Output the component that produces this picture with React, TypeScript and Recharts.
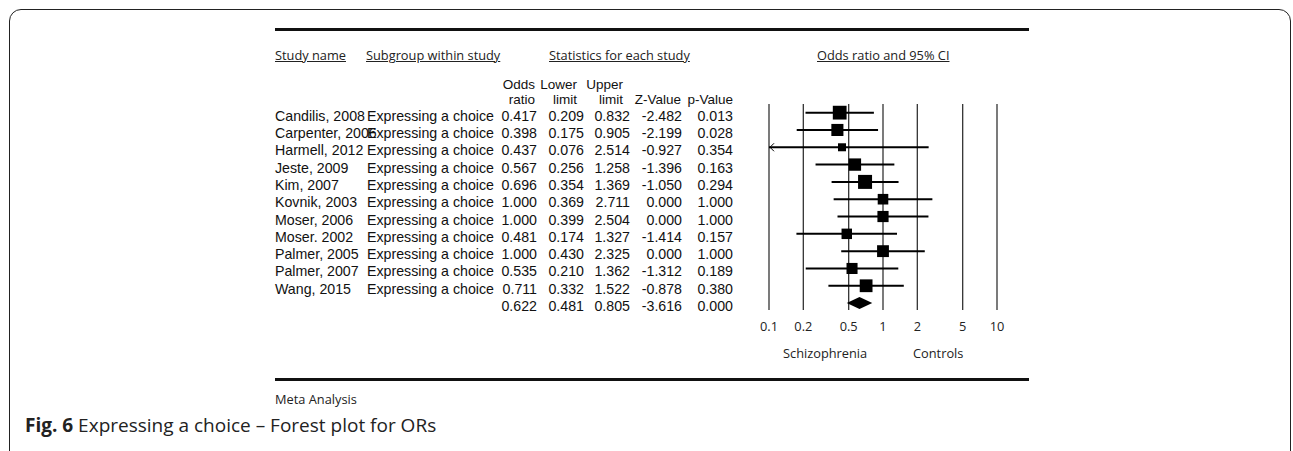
import React from "react";
import {
  ComposedChart,
  Scatter,
  XAxis,
  YAxis,
  ZAxis,
  CartesianGrid,
  ErrorBar,
} from "recharts";

// values
const studyNames = [
  "Candilis, 2008",
  "Carpenter, 2006",
  "Harmell, 2012",
  "Jeste, 2009",
  "Kim, 2007",
  "Kovnik, 2003",
  "Moser, 2006",
  "Moser. 2002",
  "Palmer, 2005",
  "Palmer, 2007",
  "Wang, 2015",
];
const subgroup = "Expressing a choice";
const oddsRatios = [0.417, 0.398, 0.437, 0.567, 0.696, 1.0, 1.0, 0.481, 1.0, 0.535, 0.711];
const lowerLimits = [0.209, 0.175, 0.076, 0.256, 0.354, 0.369, 0.399, 0.174, 0.43, 0.21, 0.332];
const upperLimits = [0.832, 0.905, 2.514, 1.258, 1.369, 2.711, 2.504, 1.327, 2.325, 1.362, 1.522];
const zValues = [-2.482, -2.199, -0.927, -1.396, -1.05, 0, 0, -1.414, 0, -1.312, -0.878];
const pValues = [0.013, 0.028, 0.354, 0.163, 0.294, 1, 1, 0.157, 1, 0.189, 0.38];
// relative study weights (square size)
const weights = [8.06, 5.69, 1.25, 6.06, 8.4, 3.86, 4.55, 3.72, 5.39, 4.39, 6.63];
const summaryOR = 0.622;
const summaryLower = 0.481;
const summaryUpper = 0.805;
const summaryZ = -3.616;
const summaryP = 0.0;
const xTicks = [0.1, 0.2, 0.5, 1, 2, 5, 10];

const X_MIN = 0.1;
const X_MAX = 10;
const SUM_ROW = studyNames.length;

// CI lines are cut at the axis edge, an arrow marks the cut
const studies = studyNames.map((name, i) => ({
  name,
  x: oddsRatios[i],
  y: i,
  w: weights[i],
  err: [
    oddsRatios[i] - Math.max(lowerLimits[i], X_MIN),
    Math.min(upperLimits[i], X_MAX) - oddsRatios[i],
  ],
}));
const arrows = studies
  .filter((_, i) => lowerLimits[i] < X_MIN)
  .map((s) => ({ x: X_MIN, y: s.y }));
const diamond = [
  { x: summaryLower, y: SUM_ROW },
  { x: summaryOR, y: SUM_ROW },
  { x: summaryUpper, y: SUM_ROW },
];
const rowTicks = [...studyNames.map((_, i) => i), SUM_ROW];

const TABLE_FONT = "'Liberation Sans', Arial, Helvetica, sans-serif";
const HEAD_FONT = "'Open Sans', 'Noto Sans', sans-serif";
const f3 = (n: number) => n.toFixed(3);

function RowTick(props: any) {
  const { y, payload } = props;
  const i = payload.value as number;
  const isSum = i === SUM_ROW;
  const vals = isSum
    ? [summaryOR, summaryLower, summaryUpper, summaryZ, summaryP]
    : [oddsRatios[i], lowerLimits[i], upperLimits[i], zValues[i], pValues[i]];
  const rights = [537, 584, 630, 682, 733];
  const by = y + 8;
  return (
    <g fontFamily={TABLE_FONT} fontSize={14.2} fill="#111">
      {!isSum && (
        <text x={275} y={by}>
          {studyNames[i]}
        </text>
      )}
      {!isSum && (
        <text x={367} y={by}>
          {subgroup}
        </text>
      )}
      {vals.map((v, k) => (
        <text key={k} x={rights[k]} y={by} textAnchor="end">
          {f3(v)}
        </text>
      ))}
    </g>
  );
}

const abs = (left: number, top: number, extra: React.CSSProperties = {}): React.CSSProperties => ({
  position: "absolute",
  left,
  top,
  whiteSpace: "nowrap",
  ...extra,
});

export default function App() {
  const head: React.CSSProperties = {
    fontFamily: HEAD_FONT,
    fontSize: 12.8,
    lineHeight: "16px",
    color: "#222",
    textDecoration: "underline",
  };
  const colHead: React.CSSProperties = {
    fontFamily: TABLE_FONT,
    fontSize: 13.5,
    lineHeight: "16px",
    color: "#111",
    width: 80,
    textAlign: "right",
  };
  const cols = [
    { top: "Odds", bot: "ratio", right: 535 },
    { top: "Lower", bot: "limit", right: 577 },
    { top: "Upper", bot: "limit", right: 623 },
    { top: "", bot: "Z-Value", right: 681 },
    { top: "", bot: "p-Value", right: 733 },
  ];
  return (
    <div
      style={{
        position: "absolute",
        left: 0,
        top: 0,
        width: 1293,
        height: 451,
        overflow: "hidden",
        background: "#fff",
      }}
    >
      <div
        style={{
          position: "absolute",
          left: 9,
          top: 9,
          width: 1282,
          height: 520,
          boxSizing: "border-box",
          border: "1.5px solid #222",
          borderRadius: 12,
        }}
      />
      <div style={abs(275, 28, { width: 754, height: 3, background: "#111" })} />
      <div style={abs(275, 378, { width: 754, height: 3, background: "#111" })} />

      <div style={abs(275, 47, head)}>Study name</div>
      <div style={abs(366, 47, head)}>Subgroup within study</div>
      <div style={abs(549, 47, head)}>Statistics for each study</div>
      <div style={abs(817, 47, head)}>Odds ratio and 95% CI</div>

      {cols.map((c) => (
        <React.Fragment key={c.bot + c.right}>
          <div style={abs(c.right - 80, 77, colHead)}>{c.top}</div>
          <div style={abs(c.right - 80, 92, colHead)}>{c.bot}</div>
        </React.Fragment>
      ))}

      <div style={abs(783, 345, { ...head, textDecoration: "none" })}>Schizophrenia</div>
      <div style={abs(913, 345, { ...head, textDecoration: "none" })}>Controls</div>
      <div style={abs(275, 391, { ...head, textDecoration: "none" })}>Meta Analysis</div>
      <div
        style={abs(25, 412, {
          fontFamily: HEAD_FONT,
          fontSize: 19,
          lineHeight: "26px",
          color: "#222",
        })}
      >
        <b>Fig. 6</b> Expressing a choice – Forest plot for ORs
      </div>

      <div style={{ position: "absolute", left: 0, top: 0 }}>
        <ComposedChart
          width={1293}
          height={451}
          margin={{ top: 104, right: 296, bottom: 111, left: 0 }}
        >
          <CartesianGrid horizontal={false} stroke="#333" strokeWidth={1.3} />
          <XAxis
            type="number"
            dataKey="x"
            scale="log"
            domain={[X_MIN, X_MAX]}
            allowDataOverflow
            ticks={xTicks}
            interval={0}
            height={30}
            axisLine={false}
            tickLine={false}
            tickSize={10}
            tickFormatter={(v: number) => String(v)}
            tick={{ fontSize: 12.8, fontFamily: HEAD_FONT, fill: "#222" }}
          />
          <YAxis
            type="number"
            dataKey="y"
            domain={[-0.5, 11.4]}
            reversed
            allowDataOverflow
            ticks={rowTicks}
            interval={0}
            width={769}
            axisLine={false}
            tickLine={false}
            tick={(p: any) => <RowTick {...p} />}
          />
          <ZAxis
            type="number"
            dataKey="w"
            range={[64, 196]}
            domain={[Math.min(...weights), Math.max(...weights)]}
          />
          <Scatter data={studies} shape="square" fill="#000" isAnimationActive={false}>
            <ErrorBar dataKey="err" direction="x" width={0} stroke="#000" strokeWidth={2} />
          </Scatter>
          <Scatter
            data={arrows}
            isAnimationActive={false}
            shape={(p: any) => (
              <path
                d={`M${p.cx + 5},${p.cy - 4}L${p.cx + 1},${p.cy}L${p.cx + 5},${p.cy + 4}`}
                stroke="#000"
                strokeWidth={1}
                fill="none"
              />
            )}
          />
          <Scatter
            data={diamond}
            isAnimationActive={false}
            shape={() => <g />}
            line={(lp: any) => {
              const [a, m, b] = lp.points;
              return (
                <polygon
                  points={`${a.x},${a.y} ${m.x},${m.y - 6} ${b.x},${b.y} ${m.x},${m.y + 6}`}
                  fill="#000"
                  stroke="none"
                />
              );
            }}
          />
        </ComposedChart>
      </div>
    </div>
  );
}
